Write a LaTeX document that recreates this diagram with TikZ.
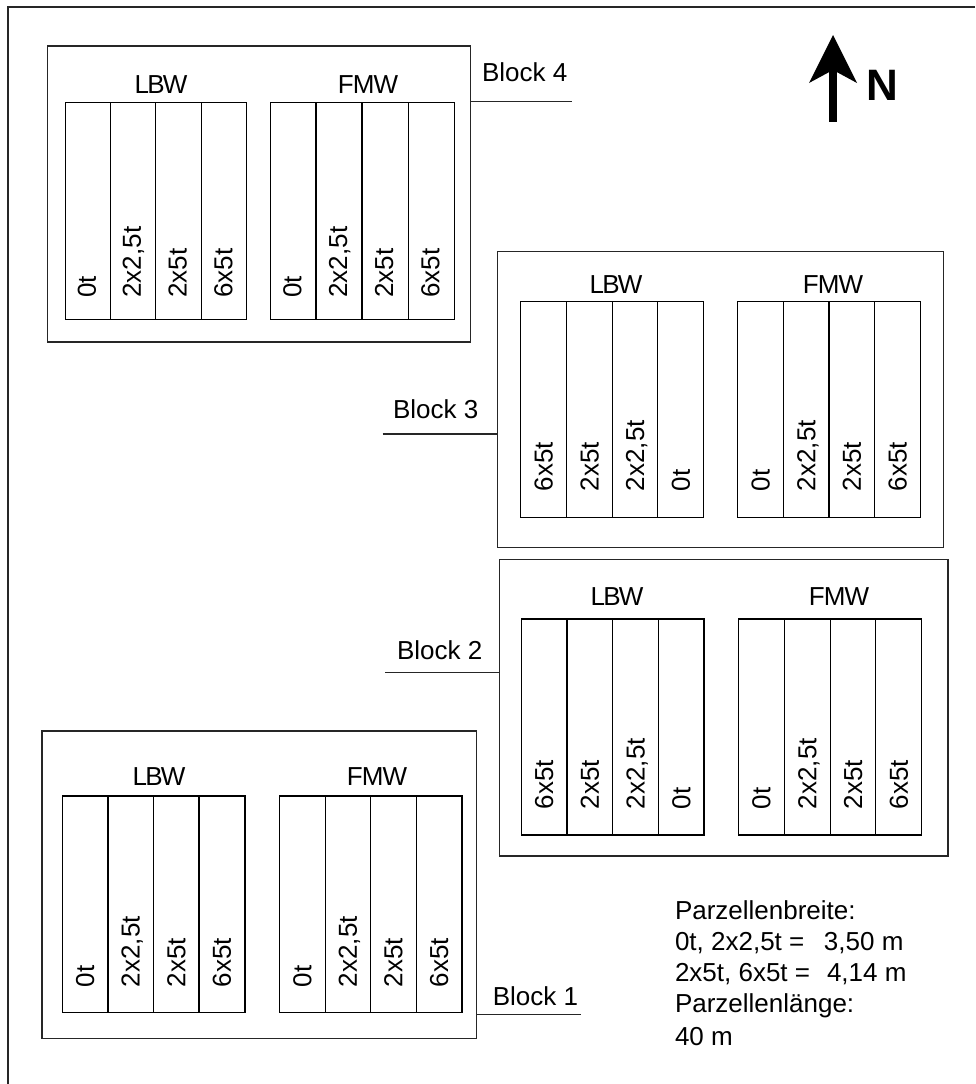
\documentclass[tikz,border=0pt]{standalone}
\usepackage{fontspec}
\setmainfont{Liberation Sans}
\begin{document}
\begin{tikzpicture}[x=1pt,y=-1pt,
  every node/.style={font=\fontsize{26}{30}\selectfont, inner sep=0pt, outer sep=0pt},
  boxline/.style={line width=1.3pt, draw=black!85},
  cellline/.style={line width=1.3pt, draw=black},
  collab/.style={rotate=90, anchor=base west},
  grouplab/.style={anchor=base},
  blocklab/.style={anchor=base west},
  legend/.style={anchor=base west}]
\useasboundingbox (0,0) rectangle (975,1084);
% outer frame (only top and left edges visible)
\coordinate (frTR) at (975,7);
\coordinate (frTL) at (8,7);
\coordinate (frBL) at (8,1084);
\draw[boxline] (frTR) -- (frTL) -- (frBL);

% ---------- block boxes ----------
\draw[boxline] (47.8,46) rectangle (470.7,342);
\draw[boxline] (497.3,251.7) rectangle (943.7,547.3);
\draw[boxline] (499.4,559.2) rectangle (948,856);
\draw[boxline] (42.1,731) rectangle (476.5,1038.3);

% ---------- block labels and leader lines ----------
\coordinate (b4a) at (470.7,101.7); \coordinate (b4b) at (572,101.7);
\draw[boxline] (b4a) -- (b4b);
\node[blocklab] (b4lab) at (482,81.7) {Block 4};
\coordinate (b3a) at (382.7,434); \coordinate (b3b) at (497.3,434);
\draw[boxline] (b3a) -- (b3b);
\node[blocklab] (b3lab) at (393,418.3) {Block 3};
\coordinate (b2a) at (385.4,672.7); \coordinate (b2b) at (499.4,672.7);
\draw[boxline] (b2a) -- (b2b);
\node[blocklab] (b2lab) at (397,659) {Block 2};
\coordinate (b1a) at (476.5,1014.3); \coordinate (b1b) at (580.5,1014.3);
\draw[boxline] (b1a) -- (b1b);
\node[blocklab] (b1lab) at (492.8,1005.7) {Block 1};

% ---------- group labels ----------
\newcommand\lbwtext{L\kern-1.8pt B\kern-1.8pt W}
\newcommand\fmwtext{F\kern-0.8pt M\kern-0.8pt W}
\node[grouplab] (g4L) at (161,93.3) {\lbwtext};
\node[grouplab] (g4F) at (368,93.3) {\fmwtext};
\node[grouplab] (g3L) at (616,293.3) {\lbwtext};
\node[grouplab] (g3F) at (833,293.3) {\fmwtext};
\node[grouplab] (g2L) at (617,605) {\lbwtext};
\node[grouplab] (g2F) at (839,605) {\fmwtext};
\node[grouplab] (g1L) at (159,785) {\lbwtext};
\node[grouplab] (g1F) at (377,785) {\fmwtext};

% ---------- plot cells ----------
% Block 4
\foreach \xa/\xb/\lab [count=\i] in {65.4/110.2/0t,110.2/155.4/{2x2,5t},155.4/201.7/2x5t,201.7/246.8/6x5t}{
  \draw[cellline] (\xa,102.7) rectangle (\xb,319.3);
  \node[collab] (c4L\i) at ({(\xa+\xb)/2+8},297.5) {\lab};}
\foreach \xa/\xb/\lab [count=\i] in {270.6/316.1/0t,316.1/362/{2x2,5t},362/408.3/2x5t,408.3/454.3/6x5t}{
  \draw[cellline] (\xa,102.7) rectangle (\xb,319.3);
  \node[collab] (c4F\i) at ({(\xa+\xb)/2+8},297.5) {\lab};}
% Block 3
\foreach \xa/\xb/\lab [count=\i] in {520.5/566.8/6x5t,566.8/612.3/2x5t,612.3/657.8/{2x2,5t},657.8/703.7/0t}{
  \draw[cellline] (\xa,301.7) rectangle (\xb,517.3);
  \node[collab] (c3L\i) at ({(\xa+\xb)/2+9},491) {\lab};}
\foreach \xa/\xb/\lab [count=\i] in {737.7/783.6/0t,783.6/829.1/{2x2,5t},829.1/874.6/2x5t,874.6/920.5/6x5t}{
  \draw[cellline] (\xa,301.7) rectangle (\xb,517.3);
  \node[collab] (c3F\i) at ({(\xa+\xb)/2+9},491) {\lab};}
% Block 2
\foreach \xa/\xb/\lab [count=\i] in {521.2/567.1/6x5t,567.1/612.7/2x5t,612.7/658.6/{2x2,5t},658.6/704.1/0t}{
  \draw[cellline] (\xa,619) rectangle (\xb,835);
  \node[collab] (c2L\i) at ({(\xa+\xb)/2+9},809) {\lab};}
\foreach \xa/\xb/\lab [count=\i] in {738.4/784.3/0t,784.3/830.3/{2x2,5t},830.3/875.8/2x5t,875.8/921.7/6x5t}{
  \draw[cellline] (\xa,619) rectangle (\xb,835);
  \node[collab] (c2F\i) at ({(\xa+\xb)/2+9},809) {\lab};}
% Block 1
\foreach \xa/\xb/\lab [count=\i] in {62.4/107.9/0t,107.9/153.5/{2x2,5t},153.5/199/2x5t,199/244.9/6x5t}{
  \draw[cellline] (\xa,796) rectangle (\xb,1012.5);
  \node[collab] (c1L\i) at ({(\xa+\xb)/2+9},987) {\lab};}
\foreach \xa/\xb/\lab [count=\i] in {279.4/325.3/0t,325.3/370.4/{2x2,5t},370.4/416.4/2x5t,416.4/462/6x5t}{
  \draw[cellline] (\xa,796) rectangle (\xb,1012.5);
  \node[collab] (c1F\i) at ({(\xa+\xb)/2+9},987) {\lab};}

% ---------- legend ----------
\node[legend] (leg1) at (675,919) {Parzellenbreite:};
\node[legend] (leg2) at (675,950) {\makebox[149pt][l]{0t, 2x2,5t =}3,50 m};
\node[legend] (leg3) at (675,981.7) {\makebox[152pt][l]{2x5t, 6x5t =}4,14 m};
\node[legend] (leg4) at (675,1012.7) {Parzellenlänge:};
\node[legend] (leg5) at (675,1045) {40 m};

% ---------- north arrow ----------
\fill[black] (833,35) -- (857,83) -- (833,70) -- (809,83) -- cycle;
\fill[black] (829,69) rectangle (837,122);
\node[anchor=base west, font=\fontsize{44}{50}\selectfont\bfseries] (north) at (866,100) {N};
\end{tikzpicture}
\end{document}
